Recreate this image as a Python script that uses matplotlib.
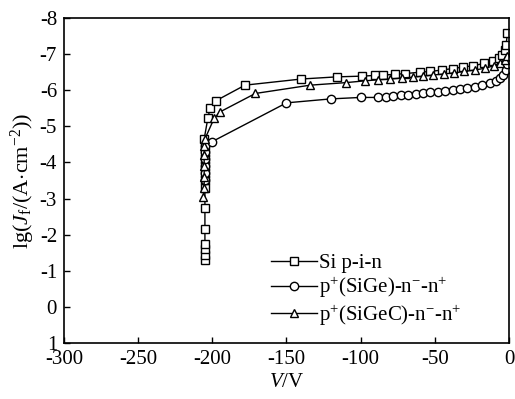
import matplotlib
matplotlib.use("Agg")
import matplotlib.pyplot as plt

plt.rcParams['font.family'] = ['Liberation Serif', 'DejaVu Serif']
plt.rcParams['mathtext.fontset'] = 'custom'
plt.rcParams['mathtext.rm'] = 'Liberation Serif'
plt.rcParams['mathtext.it'] = 'Liberation Serif:italic'
plt.rcParams['axes.unicode_minus'] = False

# Si p-i-n
si_v = [-205, -205, -205, -205, -205, -205, -205, -205, -205, -205, -205, -205, -205, -205.5,
        -203, -201.5, -197.5, -178, -140, -116, -99, -90, -85, -77, -70, -60, -53, -45, -38,
        -31, -24, -17, -11, -7, -5, -3, -2, -1]
si_j = [-1.3, -1.45, -1.6, -1.75, -2.15, -2.75, -3.3, -3.5, -3.7, -3.9, -4.1, -4.3, -4.5, -4.65,
        -5.23, -5.5, -5.71, -6.14, -6.31, -6.37, -6.39, -6.41, -6.42, -6.44, -6.46, -6.5, -6.52, -6.56, -6.6,
        -6.64, -6.68, -6.74, -6.82, -6.9, -6.98, -7.1, -7.25, -7.58]

# p+(SiGe)-n--n+
sige_v = [-205, -205, -205, -205, -205, -205, -200.4, -150, -120, -100, -88, -83, -78, -73, -68,
          -63, -58, -53, -48, -43, -38, -33, -28, -23, -18, -13, -9, -6, -4, -2, -1]
sige_j = [-3.5, -3.7, -3.9, -4.1, -4.3, -4.45, -4.57, -5.65, -5.76, -5.8, -5.8, -5.82, -5.84, -5.86, -5.88,
          -5.9, -5.92, -5.94, -5.96, -5.98, -6.0, -6.03, -6.06, -6.1, -6.14, -6.19, -6.26, -6.34, -6.42, -6.55, -6.72]

# p+(SiGeC)-n--n+
sigec_v = [-206, -205.5, -205.5, -205.5, -205.5, -205.5, -205, -198.8, -194.8, -171, -134, -110, -97,
           -88, -80, -72, -65, -58, -51, -44, -37, -30, -23, -16, -10, -6, -3, -1]
sigec_j = [-3.05, -3.3, -3.6, -3.9, -4.2, -4.45, -4.65, -5.22, -5.4, -5.91, -6.14, -6.21, -6.26,
           -6.29, -6.31, -6.34, -6.36, -6.39, -6.42, -6.45, -6.48, -6.52, -6.56, -6.61, -6.68, -6.76, -6.85, -6.95]

x_ticks = [-300, -250, -200, -150, -100, -50, 0]
y_ticks = [-8, -7, -6, -5, -4, -3, -2, -1, 0, 1]

fig = plt.figure(figsize=(5.15, 3.99), dpi=100)
ax = fig.add_axes([0.1243, 0.1404, 0.8640, 0.8145])

mk = dict(color='black', lw=1.0, markerfacecolor='white', markeredgecolor='black',
          markeredgewidth=1.0, markersize=6)
ax.plot(si_v, si_j, marker='s', label='Si p-i-n', **mk)
ax.plot(sige_v, sige_j, marker='o', label=r'p$^{+}$(SiGe)-n$^{-}$-n$^{+}$', **mk)
ax.plot(sigec_v, sigec_j, marker='^', label=r'p$^{+}$(SiGeC)-n$^{-}$-n$^{+}$', **mk)

ax.set_xlim(-300, 0)
ax.set_ylim(1, -8)
ax.set_xticks(x_ticks)
ax.set_yticks(y_ticks)
ax.tick_params(direction='in', length=4, width=1, labelsize=15, pad=5)
for s in ax.spines.values():
    s.set_linewidth(1.2)
ax.set_xlabel(r'$\mathit{V}$/V', fontsize=15, labelpad=3)
ax.set_ylabel(r'lg($\mathit{J}_{\mathrm{f}}$/(A$\cdot$cm$^{-2}$))', fontsize=16, labelpad=2)

ax.legend(loc='upper left', bbox_to_anchor=(0.465, 0.275), frameon=False, fontsize=15,
          handlelength=2.2, handletextpad=0.1, labelspacing=0.1, borderpad=0.0,
          borderaxespad=0.0)

fig.savefig('out.png', dpi=100)
